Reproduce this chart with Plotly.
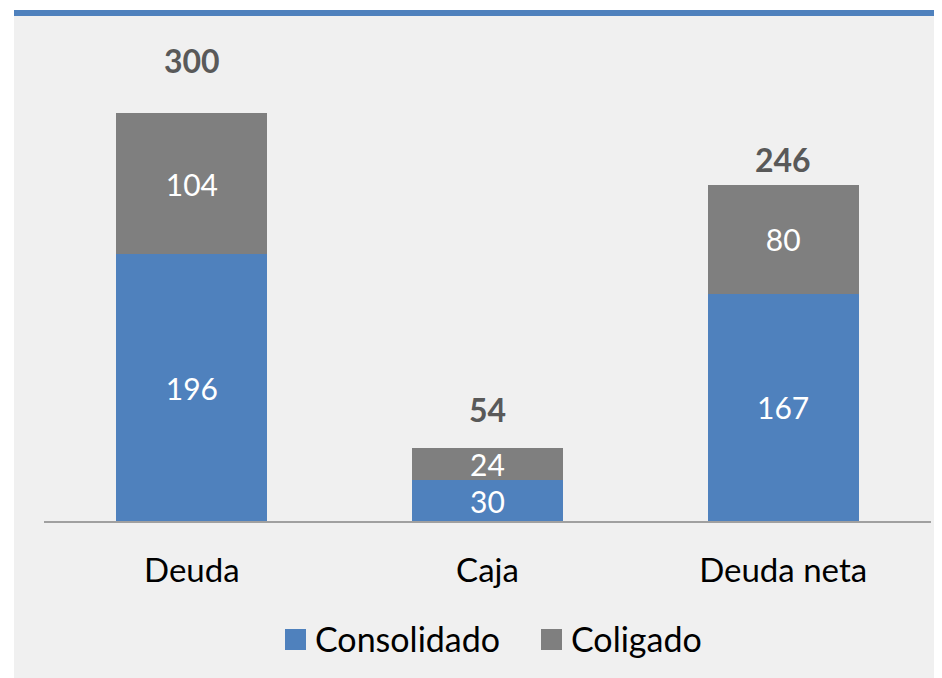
import plotly.graph_objects as go

# datos
categorias = ['Deuda', 'Caja', 'Deuda neta']
consolidado = [196, 30, 167]
coligado = [104, 24, 80]
totales = [300, 54, 246]
series = ['Consolidado', 'Coligado']

AZUL = '#4f81bd'
GRIS = '#7f7f7f'
FONDO = '#f0f0f0'
FUENTE = 'Lato'

# la pagina deja 8px de margen en el body: la figura se dibuja desplazada
OFF = 8
W, H = 942 - OFF, 678 - OFF
# margenes en pixeles de pantalla
L, R, T, B = 44 - OFF, 11, 16 - OFF, 157
PW, PH = W - L - R, H - T - B


def px_x(px):
    # px en coordenadas de pantalla -> paper
    return (px - OFF - L) / PW


def px_y(py):
    return (H - B - (py - OFF)) / PH


fig = go.Figure()
for nombre, valores, color in [(series[0], consolidado, AZUL), (series[1], coligado, GRIS)]:
    fig.add_trace(go.Bar(
        x=categorias,
        y=valores,
        name=nombre,
        marker=dict(color=color, line=dict(width=0)),
        text=valores,
        textposition='inside',
        insidetextanchor='middle',
        constraintext='none',
        textangle=0,
        textfont=dict(family=FUENTE, size=30, color='white'),
        showlegend=False,
    ))

# totales encima de cada barra
desplaz = [53, 38, 27]
for cat, tot, dy in zip(categorias, totales, desplaz):
    fig.add_annotation(
        x=cat, y=tot, text=f'<b>{tot}</b>', showarrow=False,
        yanchor='middle', yshift=dy,
        font=dict(family=FUENTE, size=32, color='#595959'),
    )

# leyenda propia (cuadros grandes)
leyenda = [(series[0], AZUL, 285), (series[1], GRIS, 541)]
for nombre, color, x0 in leyenda:
    fig.add_shape(type='rect', xref='paper', yref='paper',
                  x0=px_x(x0), x1=px_x(x0 + 21), y0=px_y(650), y1=px_y(629),
                  fillcolor=color, line=dict(width=0))
    fig.add_annotation(xref='paper', yref='paper', x=px_x(x0 + 28), y=px_y(638),
                       xanchor='left', yanchor='middle', text=nombre, showarrow=False,
                       font=dict(family=FUENTE, size=34, color='black'))

# franjas blancas y linea azul superior
fig.add_shape(type='rect', xref='paper', yref='paper', layer='above',
              x0=px_x(0), x1=px_x(14), y0=px_y(678), y1=px_y(0),
              fillcolor='white', line=dict(width=0))
fig.add_shape(type='rect', xref='paper', yref='paper', layer='above',
              x0=px_x(0), x1=px_x(942), y0=px_y(10), y1=px_y(0),
              fillcolor='white', line=dict(width=0))
fig.add_shape(type='rect', xref='paper', yref='paper', layer='above',
              x0=px_x(14), x1=px_x(942), y0=px_y(16), y1=px_y(10),
              fillcolor=AZUL, line=dict(width=0))

fig.update_layout(
    width=W, height=H,
    margin=dict(l=L, r=R, t=T, b=B, pad=0),
    barmode='stack',
    bargap=0.49,
    paper_bgcolor=FONDO,
    plot_bgcolor=FONDO,
    font=dict(family=FUENTE, color='black'),
)
fig.update_xaxes(
    showline=True, linecolor='#a0a0a0', linewidth=1.5,
    ticks='outside', ticklen=20, tickcolor='rgba(0,0,0,0)',
    tickfont=dict(family=FUENTE, size=33, color='black'),
    showgrid=False,
)
fig.update_yaxes(
    range=[0, PH / 1.36], visible=False, showgrid=False, zeroline=False,
)

fig.write_html('out.html')
